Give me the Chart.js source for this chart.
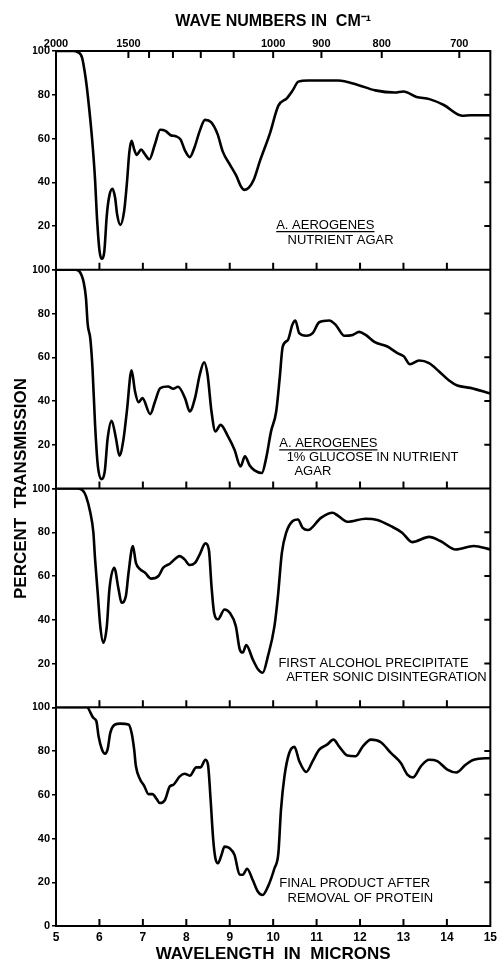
<!DOCTYPE html>
<html>
<head>
<meta charset="utf-8">
<script src="https://cdn.jsdelivr.net/npm/chart.js@4/dist/chart.umd.min.js"></script>
<style>
html,body{margin:0;padding:0;background:#fff;}
#wrap{position:relative;width:501px;height:965px;background:#fff;}
</style>
</head>
<body>
<div id="wrap"><canvas id="c"></canvas></div>
<script>
// ---------- axis tick values ----------
const micronTicks = [5, 6, 7, 8, 9, 10, 11, 12, 13, 14, 15];
const transmissionTicks = [0, 20, 40, 60, 80, 100];
const topWavenumberTicks = [2000, 1500, 1400, 1300, 1200, 1100, 1000, 900, 800, 700];
const topWavenumberLabels = [2000, 1500, 1000, 900, 800, 700];

// ---------- panel 1: A. aerogenes, nutrient agar ----------
const agarMicrons = [5.0, 5.4, 5.5, 5.6, 5.68, 5.73, 5.83, 5.90, 5.94, 6.0, 6.05, 6.11, 6.17, 6.23, 6.30, 6.36, 6.41, 6.48, 6.57, 6.63, 6.69, 6.74, 6.80, 6.86, 6.96, 7.04, 7.15, 7.28, 7.40, 7.52, 7.64, 7.76, 7.87, 7.97, 8.08, 8.19, 8.31, 8.43, 8.57, 8.72, 8.84, 9.02, 9.15, 9.26, 9.34, 9.44, 9.55, 9.70, 9.92, 10.12, 10.32, 10.45, 10.58, 10.8, 11.1, 11.5, 11.95, 12.35, 12.8, 13.0, 13.3, 13.6, 13.93, 14.35, 14.55, 15.0];
const agarTransmission = [100, 100, 99.5, 97, 88, 80, 60, 41, 25, 9, 5, 8, 25, 34, 37, 33, 25, 20.5, 27, 39, 54, 59, 55, 52.5, 55, 53, 50.5, 57.5, 64, 63.5, 61.5, 61, 59.5, 54.5, 51.5, 56, 63.5, 68.5, 67.5, 62, 54, 47.5, 43, 38, 36.5, 37.5, 41, 50, 62, 75, 78.5, 82, 86, 86.5, 86.5, 86.5, 84.5, 82, 81, 81.5, 79, 78, 75.3, 70.4, 70.6, 70.6];

// ---------- panel 2: A. aerogenes, 1% glucose in nutrient agar ----------
const glucoseMicrons = [5.0, 5.45, 5.55, 5.64, 5.69, 5.73, 5.79, 5.84, 5.90, 5.96, 6.04, 6.12, 6.19, 6.28, 6.38, 6.46, 6.55, 6.63, 6.74, 6.82, 6.90, 6.99, 7.17, 7.28, 7.40, 7.58, 7.70, 7.81, 7.97, 8.08, 8.20, 8.31, 8.41, 8.49, 8.58, 8.67, 8.79, 8.96, 9.11, 9.25, 9.35, 9.46, 9.57, 9.74, 9.84, 9.95, 10.07, 10.15, 10.22, 10.34, 10.44, 10.51, 10.60, 10.76, 10.91, 11.06, 11.29, 11.44, 11.64, 11.83, 11.98, 12.13, 12.33, 12.63, 12.86, 13.01, 13.15, 13.36, 13.59, 13.82, 14.05, 14.24, 14.54, 15.0];
const glucoseTransmission = [100, 100, 99, 94, 87, 75, 68.5, 55, 29, 11, 4.3, 7.5, 23, 31, 23, 15, 22, 35, 54, 44.3, 39.4, 41.3, 34, 39.8, 45.9, 46.6, 45.6, 46.5, 41.3, 35.2, 41.3, 52, 57.7, 52, 35.2, 26.1, 29.1, 23.8, 17.7, 10.1, 14.7, 10.5, 8.3, 7.1, 14, 26, 35.2, 50.4, 64.9, 67.9, 74.8, 76.8, 71, 69.8, 71, 76, 76.8, 74.8, 69.8, 70.2, 71.6, 70.2, 67, 64.9, 61.9, 60.4, 56.8, 58.5, 57.3, 53.5, 49.4, 47.1, 46, 43.4];

// ---------- panel 3: first alcohol precipitate ----------
const precipitateMicrons = [5.0, 5.5, 5.62, 5.69, 5.79, 5.86, 5.90, 5.96, 6.02, 6.09, 6.17, 6.23, 6.34, 6.44, 6.51, 6.61, 6.67, 6.77, 6.84, 6.94, 7.05, 7.19, 7.36, 7.47, 7.62, 7.85, 7.96, 8.08, 8.20, 8.31, 8.44, 8.52, 8.58, 8.64, 8.73, 8.88, 9.0, 9.14, 9.23, 9.30, 9.38, 9.53, 9.65, 9.76, 9.88, 10.03, 10.11, 10.20, 10.30, 10.45, 10.57, 10.68, 10.80, 11.10, 11.37, 11.48, 11.71, 12.13, 12.40, 12.71, 12.97, 13.20, 13.59, 13.85, 14.20, 14.62, 15.0];
const precipitateTransmission = [100, 100, 99, 96.5, 89, 80, 67.6, 52.4, 37, 29.5, 37, 54, 63.8, 54, 47.8, 51, 61.5, 73.7, 66, 63, 61.5, 58.8, 60, 63.8, 65.6, 69.1, 67.6, 65, 66, 69.9, 74.9, 72, 55.4, 43.2, 40.2, 44.7, 43.2, 37.1, 26.5, 25, 28.4, 21.9, 17.4, 15.8, 23.4, 37.1, 50.8, 70.6, 79.8, 85.1, 85.8, 82, 81, 86.6, 88.9, 87.7, 84.8, 86.2, 85.6, 82.8, 79.8, 75.5, 77.9, 76, 72.1, 73.7, 72.1];

// ---------- panel 4: final product after removal of protein ----------
const finalMicrons = [5.0, 5.71, 5.86, 5.93, 5.98, 6.06, 6.13, 6.19, 6.25, 6.36, 6.48, 6.67, 6.74, 6.80, 6.84, 6.94, 7.03, 7.13, 7.22, 7.32, 7.39, 7.51, 7.62, 7.70, 7.85, 7.96, 8.08, 8.23, 8.33, 8.44, 8.50, 8.56, 8.62, 8.67, 8.73, 8.81, 8.88, 9.0, 9.11, 9.23, 9.30, 9.40, 9.53, 9.65, 9.76, 9.88, 10.03, 10.12, 10.18, 10.26, 10.37, 10.49, 10.60, 10.76, 10.91, 11.06, 11.24, 11.39, 11.52, 11.71, 11.90, 12.06, 12.25, 12.48, 12.71, 12.94, 13.09, 13.22, 13.40, 13.59, 13.78, 14.01, 14.22, 14.43, 14.62, 15.0];
const finalTransmission = [100, 100, 95.1, 93.6, 86.7, 80.6, 78.8, 81, 88.3, 92.1, 92.5, 92.1, 88.3, 80.6, 73, 66.9, 64.1, 60.3, 60.3, 58, 56.2, 57.7, 63.8, 64.5, 68.4, 69.6, 68.7, 72.5, 72.5, 76, 73.7, 57.7, 39.4, 31, 28.7, 32.5, 36.3, 35.5, 32.5, 23.4, 23.4, 26.2, 21, 15.7, 14.2, 18, 26.4, 33.3, 53.1, 68.4, 79.1, 81.9, 75.4, 70.4, 75.4, 80.6, 82.9, 85.2, 82, 77.9, 77.6, 82, 85.2, 84, 79.1, 74.5, 69.2, 67.9, 73, 76, 75.4, 71.5, 70.2, 73.7, 76, 76.8];

// ---------- panel captions ----------
const panelCaptions = [
  {panel: 'p1', lines: [
    {text: 'A. AEROGENES', x: 10.07, y: 18.6, underline: true},
    {text: 'NUTRIENT AGAR', x: 10.33, y: 11.8}]},
  {panel: 'p2', lines: [
    {text: 'A. AEROGENES', x: 10.14, y: 18.8, underline: true},
    {text: '1% GLUCOSE IN NUTRIENT', x: 10.31, y: 12.8},
    {text: 'AGAR', x: 10.49, y: 6.2}]},
  {panel: 'p3', lines: [
    {text: 'FIRST ALCOHOL PRECIPITATE', x: 10.12, y: 18.3},
    {text: 'AFTER SONIC DISINTEGRATION', x: 10.30, y: 11.9}]},
  {panel: 'p4', lines: [
    {text: 'FINAL PRODUCT AFTER', x: 10.14, y: 17.9},
    {text: 'REMOVAL OF PROTEIN', x: 10.33, y: 11.0}]}
];

const panelIds = ['p1', 'p2', 'p3', 'p4'];
const series = [
  [agarMicrons, agarTransmission],
  [glucoseMicrons, glucoseTransmission],
  [precipitateMicrons, precipitateTransmission],
  [finalMicrons, finalTransmission]
];

const FONT = 'Liberation Sans';

function toPoints(xs, ys) { return xs.map((x, i) => ({x: x, y: ys[i]})); }

const datasets = series.map((s, i) => ({
  data: toPoints(s[0], s[1]),
  yAxisID: panelIds[i],
  xAxisID: 'x',
  borderColor: '#000',
  borderWidth: 2.6,
  pointRadius: 0,
  fill: false,
  cubicInterpolationMode: 'monotone'
}));

function panelScale(id, weight, showZero) {
  return {
    type: 'linear', position: 'left', stack: 'panels', stackWeight: 1, weight: weight,
    min: 0, max: 100,
    afterBuildTicks: s => { s.ticks = transmissionTicks.map(v => ({value: v})); },
    afterFit: s => { s.width = 23; },
    ticks: {
      font: {family: FONT, weight: 'bold', size: 11}, color: '#000', padding: 2, autoSkip: false,
      callback: v => (v === 0 && !showZero) ? '' : String(v)
    },
    grid: {display: true, drawOnChartArea: false, drawTicks: true, tickLength: 4, color: '#000', lineWidth: 1.5},
    border: {display: false}
  };
}

const framePlugin = {
  id: 'frame',
  afterDatasetsDraw(chart) {
    const {ctx, chartArea: a, scales} = chart;
    ctx.save();
    ctx.strokeStyle = '#000';
    ctx.lineWidth = 2;
    ctx.strokeRect(a.left, a.top, a.right - a.left, a.bottom - a.top);
    ctx.beginPath();
    panelIds.forEach(id => {
      const s = scales[id];
      const yb = s.getPixelForValue(0);
      ctx.moveTo(a.left, yb); ctx.lineTo(a.right, yb);
      micronTicks.slice(1, -1).forEach(m => {
        const x = scales.x.getPixelForValue(m);
        ctx.moveTo(x, yb); ctx.lineTo(x, yb - 7);
      });
      transmissionTicks.slice(1, -1).forEach(v => {
        const y = s.getPixelForValue(v);
        ctx.moveTo(a.right, y); ctx.lineTo(a.right - 6, y);
      });
    });
    topWavenumberTicks.slice(1).forEach(w => {
      const x = scales.xTop.getPixelForValue(10000 / w);
      ctx.moveTo(x, a.top); ctx.lineTo(x, a.top + 7);
    });
    ctx.stroke();

    ctx.fillStyle = '#000';
    ctx.font = '13px "' + FONT + '"';
    ctx.textAlign = 'left';
    ctx.textBaseline = 'alphabetic';
    ctx.lineWidth = 1.3;
    panelCaptions.forEach(c => {
      const ys = scales[c.panel];
      c.lines.forEach(l => {
        const x = scales.x.getPixelForValue(l.x);
        const y = ys.getPixelForValue(l.y);
        ctx.fillText(l.text, x, y);
        if (l.underline) {
          const w = ctx.measureText(l.text).width;
          ctx.beginPath();
          ctx.moveTo(x, y + 2.5); ctx.lineTo(x + w, y + 2.5);
          ctx.stroke();
        }
      });
    });
    ctx.restore();
  }
};

new Chart(document.getElementById('c'), {
  type: 'line',
  data: {datasets: datasets},
  options: {
    responsive: true,
    maintainAspectRatio: false,
    animation: false,
    events: [],
    layout: {padding: {left: 0, right: 10, top: 0, bottom: 0}},
    plugins: {legend: {display: false}, title: {display: false}, tooltip: {enabled: false}},
    scales: {
      x: {
        type: 'linear', position: 'bottom', min: 5, max: 15,
        afterBuildTicks: s => { s.ticks = micronTicks.map(v => ({value: v})); },
        afterFit: s => { s.height = 39; },
        ticks: {autoSkip: false, maxRotation: 0, font: {family: FONT, weight: 'bold', size: 12}, color: '#000', padding: 4},
        grid: {display: false, drawTicks: false, tickLength: 0},
        border: {display: false},
        title: {display: true, text: 'WAVELENGTH  IN  MICRONS', color: '#000',
          font: {family: FONT, weight: 'bold', size: 17}, padding: {top: 0, bottom: 0}}
      },
      xTop: {
        type: 'linear', position: 'top', min: 5, max: 15,
        afterBuildTicks: s => { s.ticks = topWavenumberTicks.map(w => ({value: 10000 / w})); },
        afterFit: s => { s.height = 51; },
        ticks: {autoSkip: false, maxRotation: 0, font: {family: FONT, weight: 'bold', size: 11}, color: '#000', padding: 0,
          callback: v => { const w = Math.round(10000 / v); return topWavenumberLabels.includes(w) ? String(w) : ''; }},
        grid: {display: false, drawTicks: false, tickLength: 0},
        border: {display: false},
        title: {display: true, text: 'WAVE NUMBERS IN  CM⁻¹', color: '#000',
          font: {family: FONT, weight: 'bold', size: 16}, padding: {top: 12, bottom: 0}}
      },
      p4: panelScale('p4', 1, true),
      p3: panelScale('p3', 2, false),
      p2: panelScale('p2', 3, false),
      p1: panelScale('p1', 4, false),
      yTitle: {
        type: 'linear', position: 'left', min: 0, max: 1, weight: 10,
        ticks: {display: false}, grid: {display: false}, border: {display: false},
        afterFit: s => { s.width = 33; },
        title: {display: true, text: 'PERCENT  TRANSMISSION', color: '#000',
          font: {family: FONT, weight: 'bold', size: 17}, padding: {top: 11, bottom: 0}}
      }
    }
  },
  plugins: [framePlugin]
});
</script>
</body>
</html>
